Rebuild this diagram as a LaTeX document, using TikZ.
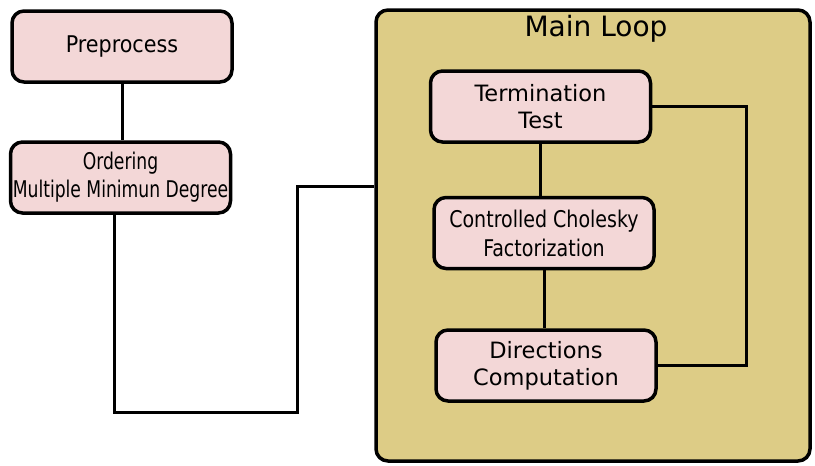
\documentclass[tikz,border=0pt]{standalone}
\usepackage{fontspec}
\setmainfont{DejaVu Sans}
\newfontfamily\narrowfont{DejaVu Sans Condensed}
\newfontfamily\tightfont[FakeStretch=0.92]{DejaVu Sans Condensed}
\newfontfamily\squeezefont[FakeStretch=0.83]{DejaVu Sans Condensed}
\definecolor{stepfill}{RGB}{243,215,215}
\definecolor{loopfill}{RGB}{221,204,134}
\tikzset{
  stepbox/.style={draw, line width=3.5pt, rounded corners=12pt, fill=stepfill,
    minimum width=220pt, minimum height=71pt, align=center, inner sep=0pt},
  wire/.style={line width=3pt}
}
\begin{document}
\begin{tikzpicture}[x=1pt, y=-1pt]
        \useasboundingbox (0,0) rectangle (815,466);

        % the outer loop box
        \node[draw, line width=3.5pt, rounded corners=12pt, fill=loopfill,
              minimum width=434pt, minimum height=451pt] (loop) at (593,235.5) {};
        \node[font=\fontsize{28}{32}\selectfont] (title) at (596,29) {Main Loop};

        % steps before the loop
        \node[stepbox, font=\narrowfont\fontsize{23}{28}\selectfont] (pre) at (122,46.5)
              {Preprocess};
        \node[stepbox, font=\squeezefont\fontsize{23}{28}\selectfont] (ord) at (120.5,177.5)
              {Ordering\\Multiple Minimun Degree};

        % steps inside the loop
        \node[stepbox, font=\fontsize{22.5}{27}\selectfont] (term) at (540.5,106.5)
              {Termination\\Test};
        \node[stepbox, font=\tightfont\fontsize{23}{29}\selectfont] (chol) at (544,233)
              {Controlled Cholesky\\Factorization};
        \node[stepbox, font=\fontsize{22.5}{27}\selectfont] (dir) at (546,365.5)
              {Directions\\Computation};

        \coordinate (dip) at (297,412);
        \coordinate (entry) at (loop.west |- 0,186);

        \draw[wire] (pre.south) -- (pre.south |- ord.north);
        \draw[wire] ([xshift=-6pt]ord.south) |- (dip) |- (entry);
        \draw[wire] (term.south) -- (term.south |- chol.north);
        \draw[wire] (chol.south) -- (chol.south |- dir.north);
        \draw[wire] (term.east) -- ++(94,0) |- (dir.east);
      \end{tikzpicture}
\end{document}
